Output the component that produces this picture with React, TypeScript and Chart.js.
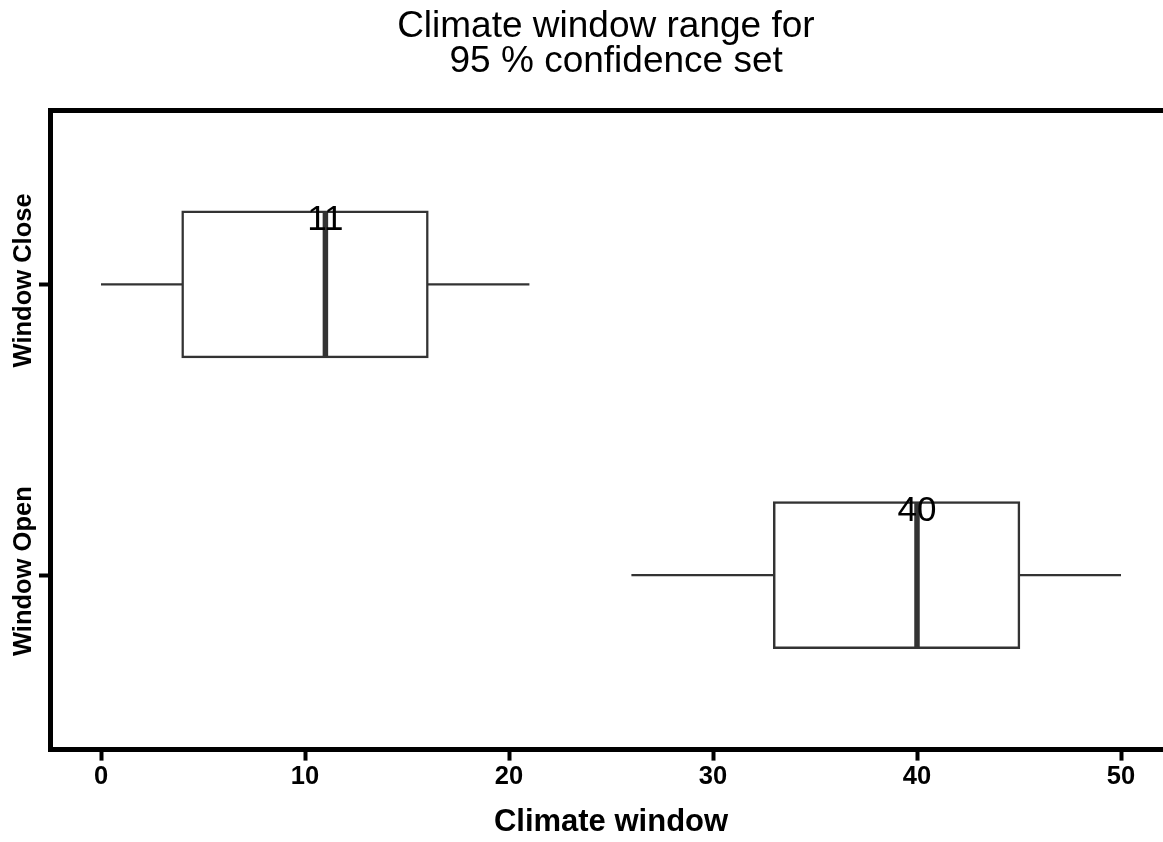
import React, { useEffect, useRef } from 'react';
import { Chart, registerables } from 'chart.js';

Chart.register(...registerables);

// Box-plot summaries for each climate window boundary
const categories = ['Window Close', 'Window Open'];
const whiskerLow = [0, 26];
const lowerQuartile = [4, 33];
const medians = [11, 40];
const upperQuartile = [16, 45];
const whiskerHigh = [21, 50];

const xTickValues = [0, 10, 20, 30, 40, 50];
const titleLines = ['Climate window range for ', ' 95 % confidence set'];
const xAxisTitle = 'Climate window';

const FONT = "'Liberation Sans', Arial, Helvetica, sans-serif";
const INK = '#333333';
const BOX_HALF = 0.25; // half box height, in category units
const LABEL_LIFT = 0.22; // median label offset above the category centre
const BOX_LINE = 2.5;

const boxAnnotations = {
  id: 'boxAnnotations',
  afterDatasetsDraw(chart: any) {
    const { ctx, scales } = chart;
    const x = scales.x;
    const y = scales.y;
    ctx.save();
    ctx.fillStyle = '#000000';
    ctx.textAlign = 'center';
    ctx.textBaseline = 'middle';
    ctx.font = `35px ${FONT}`;
    medians.forEach((m, i) => {
      ctx.fillText(String(m), x.getPixelForValue(m), y.getPixelForValue(i + 1 - LABEL_LIFT));
    });
    ctx.restore();
  },
  afterDraw(chart: any) {
    const { ctx, scales } = chart;
    const y = scales.y;
    ctx.save();
    ctx.fillStyle = '#000000';
    ctx.textAlign = 'center';
    ctx.textBaseline = 'middle';
    ctx.font = `bold 25.5px ${FONT}`;
    categories.forEach((c, i) => {
      ctx.save();
      ctx.translate(y.left - 15, y.getPixelForValue(i + 1) - 4);
      ctx.rotate(-Math.PI / 2);
      ctx.fillText(c, 0, 0);
      ctx.restore();
    });
    ctx.restore();
  },
};

export default function App() {
  const ref = useRef<HTMLCanvasElement>(null);

  useEffect(() => {
    const canvas = ref.current;
    if (!canvas) return;
    const pos = (i: number) => i + 1;

    const datasets: any[] = [];
    categories.forEach((_, i) => {
      datasets.push({
        type: 'line',
        data: [
          { x: whiskerLow[i], y: pos(i) },
          { x: whiskerHigh[i], y: pos(i) },
        ],
        borderColor: INK,
        borderWidth: 2.3,
        pointRadius: 0,
        fill: false,
        order: 3,
      });
      datasets.push({
        type: 'line',
        data: [
          { x: medians[i], y: pos(i) - BOX_HALF },
          { x: medians[i], y: pos(i) + BOX_HALF },
        ],
        borderColor: INK,
        borderWidth: 5.5,
        pointRadius: 0,
        fill: false,
        order: 1,
      });
    });
    datasets.push({
      type: 'bar',
      indexAxis: 'y',
      data: categories.map((_, i) => ({ x: [lowerQuartile[i], upperQuartile[i]], y: pos(i) })),
      backgroundColor: '#ffffff',
      borderColor: INK,
      borderWidth: BOX_LINE,
      inflateAmount: BOX_LINE / 2, // centre the outline on the quartile edges
      borderSkipped: false,
      categoryPercentage: BOX_HALF * 2,
      barPercentage: 1,
      order: 2,
    });

    const chart = new Chart(canvas, {
      type: 'bar',
      data: { datasets },
      plugins: [boxAnnotations],
      options: {
        animation: false,
        responsive: false,
        devicePixelRatio: 1,
        layout: { padding: { left: 39, right: 0, top: 0, bottom: 0 } },
        plugins: {
          legend: { display: false },
          tooltip: { enabled: false },
          title: {
            display: true,
            fullSize: false,
            text: titleLines,
            color: '#000000',
            font: { family: FONT, size: 37, weight: 'normal', lineHeight: 35 / 37 },
            padding: { top: 9.7, bottom: 30.3 },
          },
        },
        scales: {
          x: {
            type: 'linear',
            min: -2.5,
            max: 52.5,
            offset: false,
            afterBuildTicks: (s: any) => {
              s.ticks = xTickValues.map((v) => ({ value: v }));
            },
            ticks: {
              color: '#000000',
              font: { family: FONT, size: 25.5, weight: 'bold' },
              padding: 1,
              maxRotation: 0,
            },
            grid: {
              offset: false,
              drawOnChartArea: false,
              drawTicks: true,
              tickLength: 11,
              tickWidth: 4,
              tickColor: '#000000',
            },
            border: { display: true, color: '#000000', width: 5 },
            title: {
              display: true,
              text: xAxisTitle,
              color: '#000000',
              font: { family: FONT, size: 31, weight: 'bold', lineHeight: 1.2 },
              padding: { top: 10.5, bottom: 1.1 },
            },
          },
          xTop: {
            type: 'linear',
            axis: 'x',
            position: 'top',
            min: -2.5,
            max: 52.5,
            offset: false,
            ticks: { display: false },
            grid: { display: false, drawTicks: false, offset: false },
            border: { display: true, color: '#000000', width: 5 },
          },
          y: {
            type: 'linear',
            reverse: true,
            min: 0.4,
            max: 2.6,
            offset: false,
            beginAtZero: false,
            afterBuildTicks: (s: any) => {
              s.ticks = categories.map((_, i) => ({ value: i + 1 }));
            },
            ticks: { display: false },
            grid: {
              offset: false,
              drawOnChartArea: false,
              drawTicks: true,
              tickLength: 11,
              tickWidth: 4,
              tickColor: '#000000',
            },
            border: { display: true, color: '#000000', width: 5 },
          },
        },
      } as any,
    });

    return () => chart.destroy();
  }, []);

  return (
    <div
      style={{
        position: 'fixed',
        left: 0,
        top: 0,
        width: 1163,
        height: 842,
        overflow: 'hidden',
        background: '#ffffff',
      }}
    >
      <canvas ref={ref} width={1172} height={842} style={{ display: 'block', width: 1172, height: 842 }} />
    </div>
  );
}
